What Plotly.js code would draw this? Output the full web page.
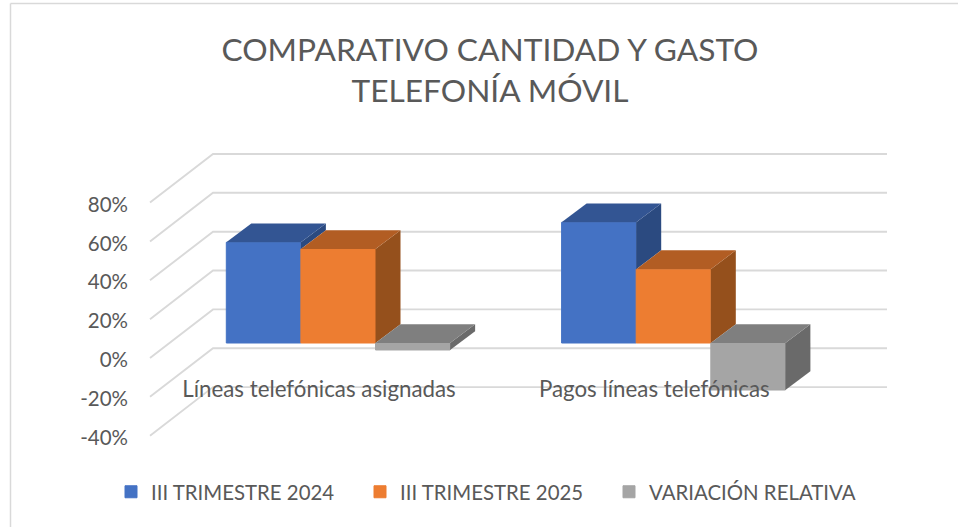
<!DOCTYPE html>
<html>
<head>
<meta charset="utf-8">
<script src="https://cdn.plot.ly/plotly-3.0.1.min.js"></script>
<style>html,body{margin:0;padding:0;background:#fff;overflow:hidden}</style>
</head>
<body>
<div id="chart" style="width:958px;height:527px"></div>
<script>
const categories = ['Líneas telefónicas asignadas', 'Pagos líneas telefónicas'];
const seriesNames = ['III TRIMESTRE 2024', 'III TRIMESTRE 2025', 'VARIACIÓN RELATIVA'];
const trimestre2024 = [51.8, 62.1];
const trimestre2025 = [48.4, 38.0];
const variacionRelativa = [-3.6, -24.2];
const yTicks = [80, 60, 40, 20, 0, -20, -40];
const yTickLabels = ['80%', '60%', '40%', '20%', '0%', '-20%', '-40%'];

const seriesValues = [trimestre2024, trimestre2025, variacionRelativa];
const frontColors = ['#4472C4', '#ED7D31', '#A5A5A5'];
const sideColors = ['#2B4A80', '#95501C', '#6A6A6A'];
const topColors = ['#335593', '#B25D23', '#7F7F7F'];

const W = 958, H = 527;
const pxPerCat = 335.3, pxPerPct = 1.943;
const catZeroPx = 319, zeroPx = 358;
const barShiftPx = 19.2, barShiftUpPx = 15;
const toX = px => (px - catZeroPx) / pxPerCat;
const rangeX = shift => [toX(-shift), toX(W - shift)];
const rangeY = up => [(zeroPx - up - H) / pxPerPct, (zeroPx - up) / pxPerPct];

const barW = 74.6 / pxPerCat;
const depthX = 25 / pxPerCat, depthY = 18.8 / pxPerPct;
const wallFrontX = toX(150), wallBackX = toX(213), wallRightX = toX(887);
const wallDepthY = 48.6 / pxPerPct;

const traces = [];
const gridColor = '#D9D9D9';
yTicks.forEach(t => {
  traces.push({
    type: 'scatter', mode: 'lines', xaxis: 'x', yaxis: 'y', showlegend: false, hoverinfo: 'skip',
    x: [wallFrontX, wallBackX, wallRightX],
    y: [t, t + wallDepthY, t + wallDepthY],
    line: { color: gridColor, width: 1.9 }
  });
});

seriesValues.forEach((vals, s) => {
  traces.push({
    type: 'bar', name: seriesNames[s], xaxis: 'x2', yaxis: 'y2',
    x: categories.map((c, i) => i), y: vals,
    marker: { color: frontColors[s], line: { width: 1, color: frontColors[s] } }
  });
});

const face = (xs, ys, color) => traces.push({
  type: 'scatter', mode: 'lines', xaxis: 'x2', yaxis: 'y2', showlegend: false, hoverinfo: 'skip',
  x: xs, y: ys, fill: 'toself', fillcolor: color, line: { width: 0, color: color }
});

seriesValues.forEach((vals, s) => {
  vals.forEach((v, i) => {
    const x0 = i + (s - 1.5) * barW, x1 = x0 + barW;
    const top = Math.max(v, 0);
    const base = s < seriesValues.length - 1 ? Math.max(0, seriesValues[s + 1][i]) : Math.min(0, v);
    face([x1, x1 + depthX, x1 + depthX, x1, x1],
         [top, top + depthY, base + depthY, base, top], sideColors[s]);
    face([x0, x1, x1 + depthX, x0 + depthX, x0],
         [top, top, top + depthY, top + depthY, top], topColors[s]);
  });
});

const fontFamily = 'Lato, sans-serif';
const textColor = '#595959';
const layout = {
  width: W, height: H,
  margin: { l: 0, r: 0, t: 0, b: 0 },
  paper_bgcolor: '#fff', plot_bgcolor: 'rgba(0,0,0,0)',
  showlegend: true, hovermode: false,
  barmode: 'group', bargap: 1 - 3 * barW, bargroupgap: 0,
  title: {
    text: 'COMPARATIVO CANTIDAD Y GASTO<br>TELEFONÍA MÓVIL',
    font: { family: fontFamily, size: 31.7, color: textColor },
    x: 490 / W, xanchor: 'center', xref: 'paper',
    y: 1 - 61 / H, yanchor: 'top', yref: 'container'
  },
  xaxis: {
    domain: [0, 1], range: rangeX(0), type: 'linear', anchor: 'free', position: 1 - 374 / H,
    tickmode: 'array', tickvals: categories.map((c, i) => i), ticktext: categories,
    showgrid: false, zeroline: false, showline: false, ticks: '',
    tickfont: { family: fontFamily, size: 22.3, color: textColor }
  },
  yaxis: {
    domain: [0, 1], range: rangeY(0), anchor: 'free', position: 128 / W,
    tickmode: 'array', tickvals: yTicks, ticktext: yTickLabels, ticklabelshift: 2,
    showgrid: false, zeroline: false, showline: false, ticks: '',
    tickfont: { family: fontFamily, size: 20.5, color: textColor }
  },
  xaxis2: { overlaying: 'x', domain: [0, 1], range: rangeX(barShiftPx), visible: false, anchor: 'y2' },
  yaxis2: { overlaying: 'y', domain: [0, 1], range: rangeY(barShiftUpPx), visible: false, anchor: 'x2' },
  legend: {
    orientation: 'h', x: 111 / W, xanchor: 'left', y: 1 - 492 / H, yanchor: 'middle',
    entrywidth: 204, entrywidthmode: 'pixels', traceorder: 'normal',
    font: { family: fontFamily, size: 20.4, color: textColor }, bgcolor: 'rgba(0,0,0,0)'
  },
  shapes: [
    { type: 'line', xref: 'paper', yref: 'paper', x0: 10.5 / W, x1: 1, y0: 1 - 3.5 / H, y1: 1 - 3.5 / H, line: { color: gridColor, width: 1.5 } },
    { type: 'line', xref: 'paper', yref: 'paper', x0: 10.5 / W, x1: 10.5 / W, y0: 0, y1: 1 - 3.5 / H, line: { color: gridColor, width: 1.5 } }
  ]
};

Plotly.newPlot('chart', traces, layout, { displayModeBar: false, staticPlot: true });
</script>
</body>
</html>
